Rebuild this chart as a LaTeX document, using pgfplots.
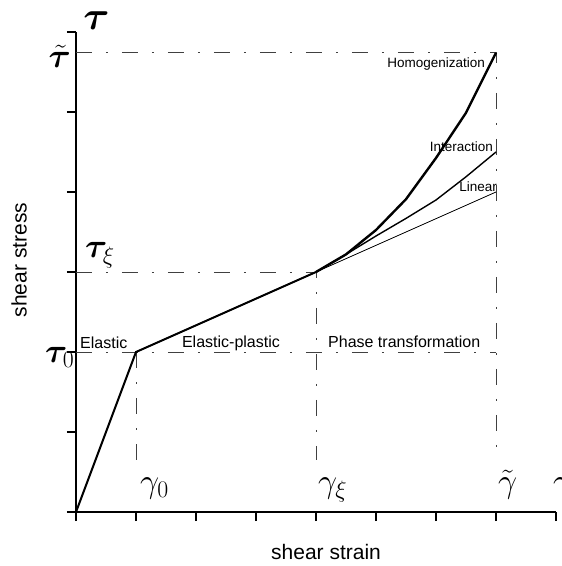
\RequirePackage{fix-cm}
\documentclass[border=0pt]{standalone}
\usepackage{bm}
\usepackage{pgfplots}
\pgfplotsset{compat=1.18}
\usepackage{fontspec}
\setmainfont{Liberation Sans}

% points of the three hardening branches after the phase transformation starts
\pgfplotstableread{
x    y
4.0  3.00
4.5  3.22
5.0  3.525
5.5  3.91
6.0  4.425
6.5  4.99
7.0  5.74
}\homog
\pgfplotstableread{
x    y
4.0  3.00
4.5  3.22
5.0  3.45
5.5  3.67
6.0  3.90
6.5  4.19
7.0  4.50
}\interact
\pgfplotstableread{
x    y
4.0  3.00
7.0  4.00
}\linear

\tikzset{
  guide/.style={black!75, line width=0.9pt, dash pattern=on 16pt off 14pt on 2pt off 14pt},
  lbl/.style={font=\fontsize{16}{19}\selectfont, inner sep=0pt},
  sml/.style={font=\fontsize{13.5}{16}\selectfont, inner sep=0pt},
  sym/.style={font=\fontsize{34}{40}\selectfont, inner sep=0pt},
}

\begin{document}
\begin{tikzpicture}
\useasboundingbox (-76pt,-54pt) rectangle (486pt,512pt);
\begin{axis}[
  x=60pt, y=80pt,
  xmin=0, xmax=8, ymin=0, ymax=6,
  axis lines=left,
  axis line style={-, line width=1.8pt, black},
  xtick={0,1,...,8}, ytick={0,1,...,6},
  xticklabels={}, yticklabels={},
  tick align=outside,
  major tick length=9pt,
  tick style={line width=1.4pt, black},
  clip=false,
]
% guide lines at the characteristic points
\addplot[guide] coordinates {(0,5.74) (7,5.74) (7,0.65)};
\addplot[guide] coordinates {(0,3) (4,3) (4,0.65)};
\addplot[guide] coordinates {(0,2) (7,2)};
\addplot[guide] coordinates {(1,2) (1,0.65)};

% elastic and elastic-plastic parts
\addplot[black, line width=2pt] coordinates {(0,0) (1,2) (4,3)};
% phase transformation branches
\addplot[black, line width=0.8pt] table[x=x,y=y] {\linear};
\addplot[black, line width=1.4pt] table[x=x,y=y] {\interact};
\addplot[black, line width=2.4pt] table[x=x,y=y] {\homog};

% symbols on the axes
\node[font=\fontsize{40}{46}\selectfont, inner sep=0pt, anchor=base] at (axis cs:0.34,6.03) {$\bm\tau$};
\node[sym, anchor=base east] at (axis cs:-0.083,5.55) {$\tilde{\bm\tau}$};
\node[sym, anchor=base west] at (axis cs:0.15,3.175) {$\bm\tau_{\xi}$};
\node[sym, anchor=base west] at (axis cs:-0.517,1.875) {$\bm\tau_0$};
\node[sym, anchor=base west] at (axis cs:1.067,0.24) {$\gamma_0$};
\node[sym, anchor=base west] at (axis cs:4.03,0.24) {$\gamma_{\xi}$};
\node[sym, anchor=base west] at (axis cs:7.03,0.24) {$\tilde\gamma$};
\node[sym, anchor=base west] at (axis cs:7.95,0.24) {$\gamma$};

% stage names
\node[lbl, anchor=base west] at (axis cs:0.067,2.05) {Elastic};
\node[lbl, anchor=base] at (axis cs:2.583,2.06) {Elastic-plastic};
\node[lbl, anchor=base west] at (axis cs:4.2,2.06) {Phase transformation};
\node[sml, anchor=base east] at (axis cs:6.82,5.55) {Homogenization};
\node[sml, anchor=base east] at (axis cs:6.95,4.5) {Interaction};
\node[sml, anchor=base east] at (axis cs:7.02,4.0) {Linear};

% axis titles
\node[font=\fontsize{21}{25}\selectfont, rotate=90] at (axis cs:-0.95,3.15) {shear stress};
\node[font=\fontsize{21}{25}\selectfont] at (axis cs:4.167,-0.5) {shear strain};
\end{axis}
\end{tikzpicture}
\end{document}
